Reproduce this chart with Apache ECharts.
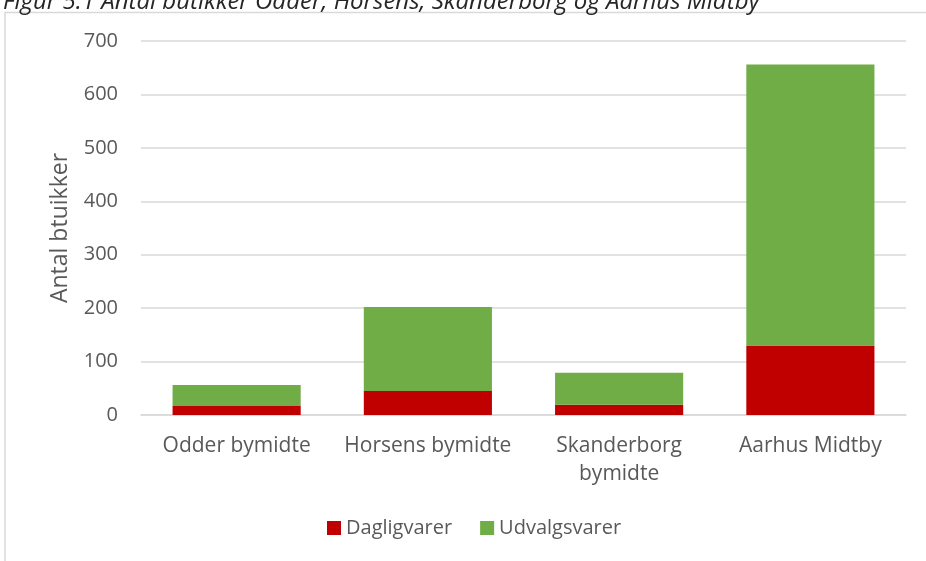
<!DOCTYPE html>
<html>
<head>
<meta charset="utf-8">
<script src="https://cdn.jsdelivr.net/npm/echarts@6/dist/echarts.min.js"></script>
<style>
  html, body { margin: 0; padding: 0; background: #fff; }
  #chart { width: 926px; height: 561px; }
</style>
</head>
<body>
<div id="chart"></div>
<script>
// Number of shops per town centre, split by goods type
const categories = ['Odder bymidte', 'Horsens bymidte', 'Skanderborg\nbymidte', 'Aarhus Midtby'];
const dagligvarer = [17, 45, 19, 130];
const udvalgsvarer = [39, 157, 60, 526];
const yTicks = { min: 0, max: 700, interval: 100 };

const FONT = '"Open Sans", "Noto Sans", sans-serif';
const chart = echarts.init(document.getElementById('chart'));

chart.setOption({
  animation: false,
  textStyle: { fontFamily: FONT },
  title: {
    text: 'Figur 5.1 Antal butikker Odder, Horsens, Skanderborg og Aarhus Midtby',
    left: -2,
    top: -15,
    textStyle: { fontFamily: FONT, fontStyle: 'italic', fontWeight: 'normal', fontSize: 24, color: '#262626' }
  },
  graphic: [{
    type: 'rect',
    shape: { x: 5, y: 12.5, width: 1000, height: 700 },
    style: { fill: 'none', stroke: '#d9d9d9', lineWidth: 1.5 },
    silent: true
  }],
  grid: { left: 141, right: 20, top: 41, bottom: 146 },
  legend: {
    bottom: 18,
    left: 322,
    itemWidth: 14,
    itemHeight: 14,
    itemGap: 28,
    itemTextGap: 7,
    icon: 'rect',
    textStyle: { fontFamily: FONT, fontSize: 20, color: '#595959' },
    data: ['Dagligvarer', 'Udvalgsvarer']
  },
  xAxis: {
    type: 'category',
    data: categories,
    axisLine: { lineStyle: { color: '#d9d9d9', width: 1.5 } },
    axisTick: { show: false },
    axisLabel: { interval: 0, fontFamily: FONT, fontSize: 21, color: '#595959', margin: 17, lineHeight: 28 }
  },
  yAxis: {
    type: 'value',
    min: yTicks.min,
    max: yTicks.max,
    interval: yTicks.interval,
    name: 'Antal btuikker',
    nameLocation: 'middle',
    nameGap: 69,
    nameTextStyle: { fontFamily: FONT, fontSize: 23, color: '#595959' },
    axisLine: { show: false },
    axisTick: { show: false },
    splitLine: { lineStyle: { color: '#d9d9d9', width: 1.5 } },
    axisLabel: { fontFamily: FONT, fontSize: 20, color: '#595959', margin: 23 }
  },
  series: [
    {
      name: 'Dagligvarer',
      type: 'bar',
      stack: 'total',
      barCategoryGap: '33%',
      data: dagligvarer,
      itemStyle: { color: '#c00000' }
    },
    {
      name: 'Udvalgsvarer',
      type: 'bar',
      stack: 'total',
      barCategoryGap: '33%',
      data: udvalgsvarer,
      itemStyle: { color: '#70ad47' }
    }
  ]
});
</script>
</body>
</html>
